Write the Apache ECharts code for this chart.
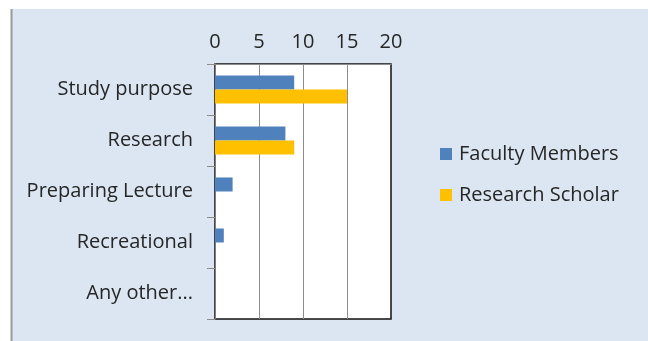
<!DOCTYPE html>
<html>
<head>
<meta charset="utf-8">
<script src="https://cdn.jsdelivr.net/npm/echarts@6/dist/echarts.min.js"></script>
<style>html,body{margin:0;padding:0;background:#fff;}#c{width:648px;height:341px;}</style>
</head>
<body>
<div id="c"></div>
<script>
const categories = ['Study purpose', 'Research', 'Preparing Lecture', 'Recreational', 'Any other...'];
const facultyMembers = [9, 8, 2, 1, 0];
const researchScholar = [15, 9, 0, 0, 0];
const seriesNames = ['Faculty Members', 'Research Scholar'];
const xTicks = [0, 5, 10, 15, 20];

const chart = echarts.init(document.getElementById('c'), null, {renderer: 'canvas'});
const font = '"Open Sans", sans-serif';
chart.setOption({
  backgroundColor: '#ffffff',
  animation: false,
  graphic: [
    {type: 'rect', z: -10, shape: {x: 12, y: 9, width: 636, height: 332}, style: {fill: '#dce6f2'}},
    {type: 'line', z: -9, shape: {x1: 11.5, y1: 9, x2: 11.5, y2: 341}, style: {stroke: '#9a9a9a', lineWidth: 2}}
  ],
  grid: {left: 215, right: 257, top: 64, bottom: 22, show: true, backgroundColor: '#ffffff', borderColor: '#111111', borderWidth: 1.5},
  legend: {
    orient: 'vertical', left: 435, top: 139, itemWidth: 12, itemHeight: 12, itemGap: 21, icon: 'rect',
    textStyle: {fontFamily: font, fontSize: 20, color: '#262626', padding: [0, 0, 0, 2]},
    data: seriesNames
  },
  xAxis: {
    type: 'value', position: 'top', min: xTicks[0], max: xTicks[xTicks.length - 1], interval: 5,
    axisLine: {show: true, lineStyle: {color: '#8c8c8c'}},
    axisTick: {show: false},
    splitLine: {show: true, showMaxLine: false, showMinLine: false, lineStyle: {color: '#8c8c8c', width: 1}},
    axisLabel: {fontFamily: font, fontSize: 20, color: '#262626', margin: 12}
  },
  yAxis: {
    type: 'category', data: categories, inverse: true,
    axisLine: {show: true, lineStyle: {color: '#7f7f7f'}},
    axisTick: {show: true, length: 8, lineStyle: {color: '#8c8c8c'}},
    axisLabel: {fontFamily: font, fontSize: 20, color: '#262626', margin: 22}
  },
  series: [
    {name: seriesNames[0], type: 'bar', data: facultyMembers, barGap: '0%', barCategoryGap: '45%', itemStyle: {color: '#4f81bd'}},
    {name: seriesNames[1], type: 'bar', data: researchScholar, barGap: '0%', barCategoryGap: '45%', itemStyle: {color: '#ffc000'}}
  ]
});
</script>
</body>
</html>
